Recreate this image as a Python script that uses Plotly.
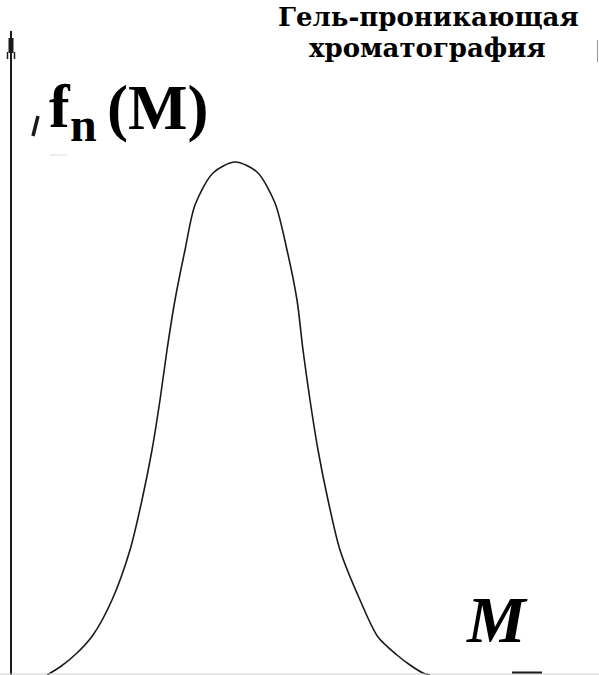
import plotly.graph_objects as go

# molecular mass axis position and distribution height
mass = [47, 60, 77, 93, 112, 130, 142, 152, 160, 167, 175, 185, 195, 213, 235,
        257, 275, 287, 297, 303, 310, 318, 328, 340, 360, 378, 397, 410, 423, 430]
fn = [0, 8, 22, 40, 75, 125, 175, 225, 275, 325, 375, 425, 470, 502, 513,
      503, 472, 425, 375, 325, 275, 225, 175, 125, 75, 38, 20, 10, 2, 0]

title_lines = ["Гель-проникающая", "хроматография"]
y_label = ("f", "n", "(M)")
x_label = "M"

W, H = 599, 675
SERIF = "Liberation Serif, Times New Roman, serif"
WIDE_SERIF = "DejaVu Serif, serif"
INK = "#1a1a1a"

fig = go.Figure()
fig.add_trace(go.Scatter(
    x=mass, y=fn, mode="lines",
    line=dict(color=INK, width=1.6, shape="spline", smoothing=0.8),
    hoverinfo="skip", showlegend=False,
))


def py(v):
    # picture row -> data y
    return H - v


shapes = [
    # vertical axis with its arrow
    dict(type="line", x0=11, x1=11, y0=py(31), y1=py(675), line=dict(color=INK, width=2)),
    dict(type="rect", x0=8.5, x1=13.5, y0=py(38), y1=py(53), fillcolor=INK, line=dict(width=0)),
    dict(type="line", x0=7.5, x1=7.5, y0=py(52), y1=py(59), line=dict(color=INK, width=1.5)),
    dict(type="line", x0=14.5, x1=14.5, y0=py(52), y1=py(59), line=dict(color=INK, width=1.5)),
    # leftovers next to the f label
    dict(type="line", x0=33, x1=38, y0=py(136), y1=py(116), line=dict(color=INK, width=3.5)),
    dict(type="line", x0=50, x1=67, y0=py(155), y1=py(155), line=dict(color="#dddddd", width=1)),
    # bottom border and short dash of the x arrow
    dict(type="line", x0=0, x1=W, y0=py(674), y1=py(674), line=dict(color="#cfcfcf", width=1)),
    dict(type="line", x0=512, x1=542, y0=py(672.5), y1=py(672.5), line=dict(color=INK, width=2)),
    dict(type="line", x0=597.5, x1=597.5, y0=py(40), y1=py(62), line=dict(color="#9a9a9a", width=1)),
]

annotations = [
    dict(x=428, y=py(17), text=title_lines[0], font=dict(size=26, color="black", family=WIDE_SERIF)),
    dict(x=427, y=py(48), text=title_lines[1], font=dict(size=26, color="black", family=WIDE_SERIF)),
    dict(x=60, y=py(106), text=y_label[0], font=dict(size=62, color="black", family=SERIF)),
    dict(x=83, y=py(124), text=y_label[1], font=dict(size=48, color="black", family=SERIF)),
    dict(x=157, y=py(108), text=y_label[2], font=dict(size=63, color="black", family=SERIF)),
    dict(x=497, y=py(619), text=x_label, font=dict(size=66, color="black", family=SERIF)),
]
for a in annotations:
    a.update(xref="x", yref="y", showarrow=False, xanchor="center", yanchor="middle", borderpad=0)
    a["text"] = "<b>" + a["text"] + "</b>"
annotations[-1]["text"] = "<b><i>" + x_label + "</i></b>"

fig.update_layout(
    width=W, height=H,
    margin=dict(l=0, r=0, t=0, b=0),
    paper_bgcolor="white", plot_bgcolor="white",
    xaxis=dict(range=[0, W], visible=False, fixedrange=True),
    yaxis=dict(range=[0, H], visible=False, fixedrange=True),
    shapes=shapes,
    annotations=annotations,
)

# drop the default page margin so the figure sits at the window corner
fig.write_html(
    "out.html",
    config={"displayModeBar": False},
    post_script="document.body.style.margin='0';",
)
